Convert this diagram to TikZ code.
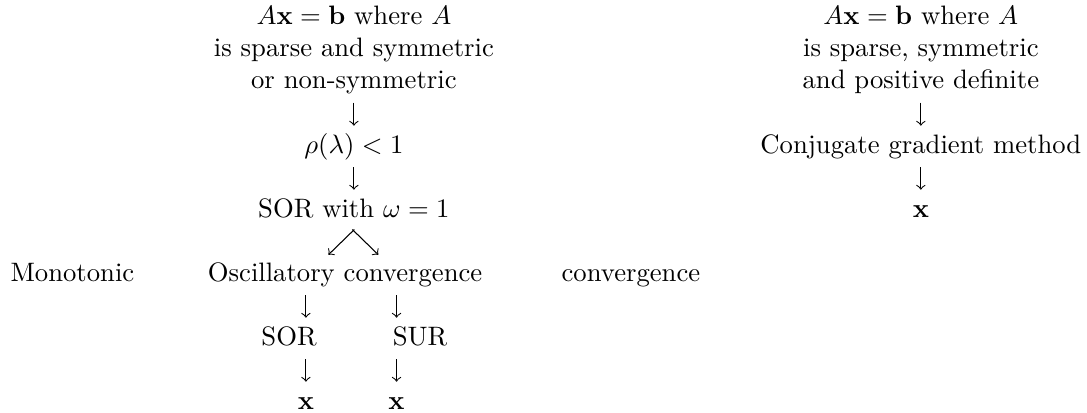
\documentclass[tikz,border=0pt]{standalone}
\usepackage{amsmath,amssymb}
\usepackage{tikz}
\usetikzlibrary{positioning}

\begin{document}
\begin{tikzpicture}[
  x=1pt, y=-1pt,
  txt/.style={inner sep=0pt, text height=6.94pt, text depth=1.94pt, anchor=base},
  block/.style={inner sep=0pt, align=center, anchor=south},
  flow/.style={->, line width=0.4pt, shorten <=3.12pt, shorten >=3.12pt},
  >=to
]
\useasboundingbox (0,0) rectangle (407.6,154.5);

% Left branch: sparse, symmetric or not
\node[block] (probL) at (132.7,35.34) {$A\mathbf{x}=\mathbf{b}$ where $A$\\
                                        is sparse and symmetric\\
                                        or non-symmetric};
\node[txt] (rho)  at (132.7,57.4) {$\rho(\lambda)<1$};
\node[txt] (sorw) at (132.7,81.4) {SOR with $\omega=1$};
\node[txt, anchor=base west] (mono) at (3.75,105.4)  {Monotonic};
\node[txt] (osc)  at (129.4,105.4) {Oscillatory convergence};
\node[txt, anchor=base west] (conv) at (210.4,105.4) {convergence};
\node[txt] (sor)  at (108.4,129.4) {SOR};
\node[txt] (sur)  at (157.5,129.4) {SUR};
\node[txt] (xsor) at (114.7,153.4) {$\mathbf{x}$};
\node[txt] (xsur) at (148.7,153.4) {$\mathbf{x}$};

% Right branch: symmetric positive definite
\node[block] (probR) at (345.3,35.34) {$A\mathbf{x}=\mathbf{b}$ where $A$\\
                                        is sparse, symmetric\\
                                        and positive definite};
\node[txt] (cg)  at (345.3,57.4) {Conjugate gradient method};
\node[txt] (xcg) at (345.3,81.4) {$\mathbf{x}$};

% Straight down arrows
\foreach \src/\dst in {probL/rho, rho/sorw, probR/cg, cg/xcg}{
  \draw[flow] (\src.south) -- (\dst.north);
}

% Split below SOR with omega = 1
\draw[flow, shorten <=3.6pt, shorten >=3.9pt]
  ([xshift=2.76pt]sorw.south) -- ([xshift=-9.06pt]osc.north);
\draw[flow, shorten <=3.6pt, shorten >=3.9pt]
  ([xshift=-3.16pt]sorw.south) -- ([xshift=15.26pt]osc.north);

% Two lower chains
\draw[flow] ([xshift=-14.7pt]osc.south) -- ([xshift=6.3pt]sor.north);
\draw[flow] ([xshift=19.3pt]osc.south) -- ([xshift=-8.8pt]sur.north);
\draw[flow] ([xshift=6.3pt]sor.south) -- (xsor.north);
\draw[flow] ([xshift=-8.8pt]sur.south) -- (xsur.north);

\end{tikzpicture}
\end{document}
